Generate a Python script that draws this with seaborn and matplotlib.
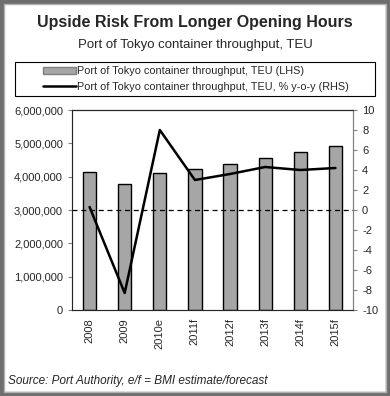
import numpy as np
import pandas as pd
import seaborn as sns
import matplotlib.pyplot as plt
from matplotlib.patches import Rectangle, Patch
from matplotlib.lines import Line2D
from matplotlib.ticker import FuncFormatter

years = ['2008', '2009', '2010e', '2011f', '2012f', '2013f', '2014f', '2015f']
teu = [4140000, 3780000, 4100000, 4220000, 4380000, 4550000, 4730000, 4930000]
yoy = [0.3, -8.3, 8.0, 3.0, 3.6, 4.3, 4.0, 4.2]

sns.set_style('white')
plt.rcParams['font.family'] = ['Liberation Sans', 'DejaVu Sans']
plt.rcParams['axes.unicode_minus'] = False

fig = plt.figure(figsize=(3.9, 3.96), dpi=100)
ax = fig.add_axes([72/390, 1-310/396, 281/390, 200/396])

df = pd.DataFrame({'year': years, 'teu': teu})
sns.barplot(data=df, x='year', y='teu', color='#a6a6a6', edgecolor='black',
            linewidth=1, width=0.38, saturation=1, ax=ax)
ax.set_ylim(0, 6000000)
ax.set_yticks(np.arange(0, 6000001, 1000000))
ax.yaxis.set_major_formatter(FuncFormatter(lambda v, p: '{:,.0f}'.format(v)))
ax.set_xlabel('')
ax.set_ylabel('')
ax.tick_params(axis='x', rotation=90, labelsize=8, length=0, pad=6)
ax.tick_params(axis='y', labelsize=8, length=3, direction='out', left=True, color='#808080')
for s in ax.spines.values():
    s.set_linewidth(0.8)
ax.spines['left'].set_color('#808080')
ax.spines['right'].set_color('#808080')
ax.spines['bottom'].set_color('#808080')
ax.spines['top'].set_color('black')

ax2 = ax.twinx()
ax2.axhline(0, color='black', linestyle='--', linewidth=0.9, dashes=(4, 3))
sns.lineplot(x=np.arange(len(years)), y=yoy, color='black', linewidth=1.8, ax=ax2)
ax2.set_ylim(-10, 10)
ax2.set_yticks(np.arange(-10, 11, 2))
ax2.tick_params(axis='y', labelsize=8, length=3, direction='out', right=True, color='#808080')
ax2.spines['right'].set_color('#808080')
ax2.set_xlim(-0.5, len(years) - 0.5)
ax.set_xlim(-0.5, len(years) - 0.5)

fig.text(0.5, 1-22/396, 'Upside Risk From Longer Opening Hours', ha='center', va='center',
         fontsize=11.5, fontweight='bold')
fig.text(0.5, 1-45/396, 'Port of Tokyo container throughput, TEU', ha='center', va='center',
         fontsize=9.5)

fig.patches.append(Rectangle((15/390, 1-96/396), 360/390, 34/396, transform=fig.transFigure,
                             fill=False, edgecolor='black', linewidth=0.8))
handles = [Patch(facecolor='#a6a6a6', edgecolor='#808080'),
           Line2D([], [], color='black', linewidth=1.8)]
labels = ['Port of Tokyo container throughput, TEU (LHS)',
          'Port of Tokyo container throughput, TEU, % y-o-y (RHS)']
leg = fig.legend(handles, labels, loc='center', bbox_to_anchor=(196/390, 1-79/396), frameon=False,
                 fontsize=7.8, handlelength=3.0, handleheight=0.6, handletextpad=0.1,
                 labelspacing=0.55, borderpad=0)

fig.text(8/390, 1-381/396, 'Source: Port Authority, e/f = BMI estimate/forecast',
         ha='left', va='center', fontsize=8.5, style='italic')

fig.patches.append(Rectangle((0, 0), 1, 1, transform=fig.transFigure, fill=False,
                             edgecolor='#6e6e6e', linewidth=6))
fig.patches.append(Rectangle((4/390, 4/396), 382/390, 388/396, transform=fig.transFigure,
                             fill=False, edgecolor='#b0b0b0', linewidth=1))

fig.savefig('out.png', dpi=100)
